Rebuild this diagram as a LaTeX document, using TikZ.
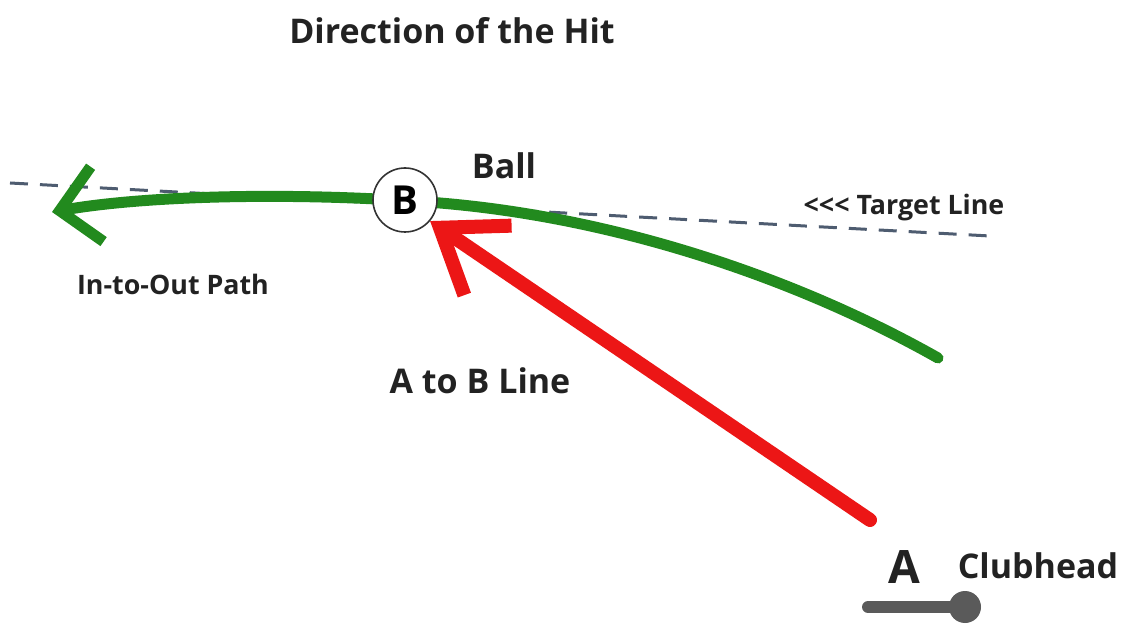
\documentclass[tikz,border=0pt]{standalone}
\usepackage{fontspec}
\setmainfont{Open Sans}
\usepackage{tikz}
\usetikzlibrary{arrows.meta,positioning,backgrounds}
\definecolor{pathgreen}{RGB}{34,138,30}
\definecolor{abred}{RGB}{236,22,22}
\definecolor{targetgray}{RGB}{78,92,112}
\definecolor{clubgray}{RGB}{90,90,90}
\definecolor{labelgray}{RGB}{34,34,34}
\tikzset{
  hitlabel/.style={
    font=\bfseries\fontsize{17}{20}\selectfont,
    text=labelgray,
    inner sep=0pt
  },
  smalllabel/.style={
    hitlabel,
    font=\bfseries\fontsize{13.4}{16}\selectfont
  },
  ballnode/.style={
    circle,
    draw=black!80,
    fill=white,
    line width=0.8pt,
    minimum size=32pt,
    inner sep=0pt,
    font=\bfseries\fontsize{20}{24}\selectfont
  },
  inoutpath/.style={
    pathgreen,
    line width=5.5pt,
    line cap=round,
    -{Straight Barb[length=19pt 0,width=38pt 0]}
  },
  abline/.style={
    abred,
    line width=7pt,
    line cap=round,
    -{Straight Barb[length=29pt 0,width=42pt 0]}
  },
  targetline/.style={
    targetgray,
    line width=1.5pt,
    dash pattern=on 9pt off 6pt
  },
  clubshaft/.style={
    clubgray,
    line width=6pt,
    line cap=round
  },
  clubend/.style={
    circle,
    fill=clubgray,
    minimum size=16pt,
    inner sep=0pt
  }
}

\begin{document}
\begin{tikzpicture}[x=0.5pt,y=-0.5pt]
  \useasboundingbox (0,0) rectangle (1123,624);

  % titles and labels
  \node[hitlabel] (hit) at (452,31) {Direction of the Hit};
  \node[hitlabel] (balltext) at (504,166) {Ball};
  \node[smalllabel] (targettext) at (904,208) {{<}{<}{<} Target Line};
  \node[smalllabel] (inouttext) at (173,284) {In-to-Out Path};
  \node[hitlabel] (abtext) at (480,381) {A to B Line};

  % ball
  \node[ballnode] (ball) at (405,200) {B};

  % clubhead
  \node[font=\bfseries\fontsize{23}{27}\selectfont, text=labelgray, inner sep=0pt] (clubA) at (904,567) {A};
  \node[hitlabel] (clubtext) at (1038,566) {Clubhead};
  \node[clubend] (clubhead) at (965,607) {};
  \coordinate (grip) at (868,607);
  \draw[clubshaft] (grip) -- (clubhead.center);

  % lines
  \coordinate (target-w) at (10,183);
  \coordinate (target-e) at (990,236);
  \coordinate (swing-end) at (938,358);
  \coordinate (hook-tip) at (52,212);
  \coordinate (club-start) at (870,520);

  \begin{scope}[on background layer]
    \draw[targetline] (target-w) -- (target-e);
    \draw[inoutpath] (swing-end) .. controls (800,280) and (620,218) .. (440,203)
      .. controls (300,192) and (150,195) .. (hook-tip);
  \end{scope}

  \draw[abline] (club-start) -- (ball.-40);
\end{tikzpicture}
\end{document}
